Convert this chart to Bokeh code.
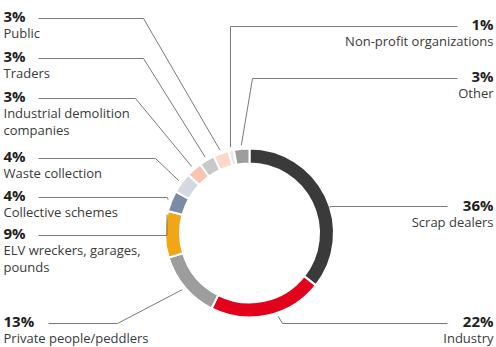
import math
from bokeh.plotting import figure
from bokeh.models import Range1d, ColumnDataSource
from bokeh.core.properties import value
from bokeh.embed import file_html
from bokeh.resources import INLINE

# ---------------- data ----------------
categories = ["Scrap dealers", "Industry", "Private people/peddlers",
              "ELV wreckers, garages, pounds", "Collective schemes",
              "Waste collection", "Industrial demolition companies",
              "Traders", "Public", "Non-profit organizations", "Other"]
shares = [36, 22, 13, 9, 4, 4, 3, 3, 3, 1, 3]
label_lines = [["Scrap dealers"], ["Industry"], ["Private people/peddlers"],
               ["ELV wreckers, garages,", "pounds"], ["Collective schemes"],
               ["Waste collection"], ["Industrial demolition", "companies"],
               ["Traders"], ["Public"], ["Non-profit organizations"], ["Other"]]
pct_labels = [f"{s}%" for s in shares]

# ---------------- style / layout ----------------
colors = ["#3a3a3a", "#e2001a", "#9d9d9d", "#f2a516", "#7b8ba6", "#d2d9e3",
          "#fbc4b0", "#c8c8c8", "#fdd7c8", "#e8e8e8", "#9d9d9d"]
W, H = 496, 347
CX, CY = 249, 232.5
R_OUT, R_IN = 84.5, 69.5
FONT = "Open Sans"
PCT_SIZE = "15px"
LBL_SIZE = "13px"
LINE_GAP = 17
TEXT_SHIFT = 4

# side, pct baseline y, line y, line text-end x, elbow x (None=anchor x), anchor fraction, anchor radius
layout = [
    ("R", 208, 206, 447, None, 0.565, 84.5),
    ("R", 324, 323, 447, 282, 0.417, 88),
    ("L", 324, 323, 48, 117, 0.5, 88),
    ("L", 236, 235, 38, None, 0.92, 84.5),
    ("L", 198, 197, 38, 167, 0.5, 88),
    ("L", 159, 158, 38, 155, 0.5, 88),
    ("L", 99, 98, 38, 135, 0.5, 88),
    ("L", 59, 58, 38, 143, 0.5, 88),
    ("L", 19, 18, 38, 143, 0.5, 88),
    ("R", 27, 26, 457, None, 0.5, 88),
    ("R", 79, 78, 457, 252, 0.5, 88),
]
X_LEFT, X_RIGHT = 3, 493

p = figure(width=W, height=H, output_backend="svg", toolbar_location=None,
           x_range=Range1d(0, W), y_range=Range1d(0, H),
           x_axis_location=None, y_axis_location=None, min_border=0)
p.grid.visible = False
p.outline_line_color = None
p.background_fill_color = "white"
p.border_fill_color = "white"

total = sum(shares)
cum = [0]
for s in shares:
    cum.append(cum[-1] + s)
theta0 = [c / total * 360 for c in cum[:-1]]
theta1 = [c / total * 360 for c in cum[1:]]
# clockwise-from-top -> math angles (radians)
starts = [math.radians(90 - b) for b in theta1]
ends = [math.radians(90 - a) for a in theta0]

src = ColumnDataSource(dict(start=starts, end=ends, color=colors))
p.annular_wedge(x=CX, y=H - CY, inner_radius=R_IN, outer_radius=R_OUT,
                start_angle="start", end_angle="end", direction="anticlock",
                fill_color="color", line_color="white", line_width=2, source=src)

# leader lines and labels
for i, (side, pct_y, line_y, text_x, elbow_x, frac, rad) in enumerate(layout):
    th = math.radians(theta0[i] + frac * (theta1[i] - theta0[i]))
    ax = CX + rad * math.sin(th)
    ay = CY - rad * math.cos(th)
    ex = ax if elbow_x is None else elbow_x
    xs = [text_x, ex, ax]
    ys = [H - line_y, H - line_y, H - ay]
    p.line(xs, ys, line_color="#7a7a7a", line_width=1)

    tx = X_LEFT if side == "L" else X_RIGHT
    align = "left" if side == "L" else "right"
    base = pct_y - TEXT_SHIFT
    p.text(x=[tx], y=[H - base], text=[pct_labels[i]], text_font=value(FONT),
           text_font_size=PCT_SIZE, text_font_style="bold", text_color="#1e1e1e",
           text_align=align, text_baseline="alphabetic")
    for k, line in enumerate(label_lines[i]):
        p.text(x=[tx], y=[H - (base + LINE_GAP * (k + 1))], text=[line],
               text_font=value(FONT), text_font_size=LBL_SIZE, text_color="#3a3a3a",
               text_align=align, text_baseline="alphabetic")

open("out.html", "w").write(file_html(p, INLINE))
